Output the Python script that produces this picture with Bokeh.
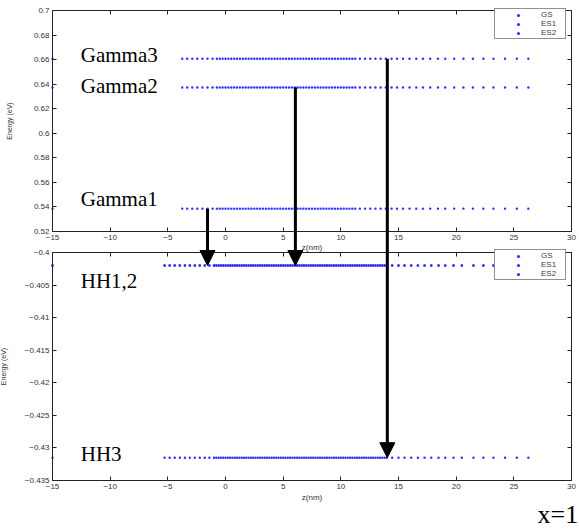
from bokeh.plotting import figure
from bokeh.models import (Range1d, LinearAxis, FixedTicker, Legend, LegendItem,
                          Arrow, NormalHead, Label)
from bokeh.embed import file_html
from bokeh.resources import INLINE

# ---------------- data ----------------
# z grid (nm) of the upper panel (conduction band levels)
z_top = [-15.0, -3.75, -3.32, -2.88, -2.45, -2.0, -1.56, -1.12,
         -0.75, -0.5, -0.25, 0.0, 0.25, 0.5, 0.75, 1.0, 1.25, 1.5, 1.75, 2.0,
         2.25, 2.5, 2.75, 3.0, 3.25, 3.5, 3.75, 4.0, 4.25, 4.5, 4.75, 5.0,
         5.25, 5.5, 5.75, 6.0, 6.25, 6.5, 6.75, 7.0, 7.25, 7.5, 7.75, 8.0,
         8.25, 8.5, 8.75, 9.0, 9.25, 9.5, 9.75, 10.0, 10.25, 10.5, 10.75, 11.0,
         11.25, 11.65, 12.1, 12.55, 13.0, 13.45, 13.9, 14.4, 14.87, 15.39,
         15.96, 16.54, 17.12, 17.75, 18.42, 19.05, 19.83, 20.63, 21.45, 22.36,
         23.23, 24.24, 25.26, 26.26]
# z grid (nm) of the lower panel (heavy-hole levels)
z_bot = [-15.0, -5.28, -4.84, -4.4, -3.96, -3.52, -3.09, -2.66, -2.23, -1.8, -1.4,
         -1.0, -0.8, -0.6, -0.4, -0.2, 0.0, 0.2, 0.4, 0.6, 0.8, 1.0, 1.2, 1.4,
         1.6, 1.8, 2.0, 2.2, 2.4, 2.6, 2.8, 3.0, 3.2, 3.4, 3.6, 3.8, 4.0, 4.2,
         4.4, 4.6, 4.8, 5.0, 5.2, 5.4, 5.6, 5.8, 6.0, 6.2, 6.4, 6.6, 6.8, 7.0,
         7.2, 7.4, 7.6, 7.8, 8.0, 8.2, 8.4, 8.6, 8.8, 9.0, 9.2, 9.4, 9.6, 9.8,
         10.0, 10.2, 10.4, 10.6, 10.8, 11.0, 11.2, 11.4, 11.6, 11.8, 12.0, 12.2,
         12.4, 12.6, 12.8, 13.0, 13.2, 13.4, 13.6, 13.8, 14.0, 14.45, 15.0,
         15.52, 16.1, 16.68, 17.26, 17.84, 18.47, 19.05, 19.77, 20.49, 21.5,
         22.36, 23.23, 24.24, 25.26, 26.26]

series_names = ["GS", "ES1", "ES2"]
top_levels = [0.5386, 0.6373, 0.6607]          # eV  (Gamma1, Gamma2, Gamma3)
bot_levels = [-0.4020, -0.4020, -0.4315]       # eV  (HH1, HH2, HH3)

top_level_names = ["Gamma1", "Gamma2", "Gamma3"]
bot_level_names = ["HH1,2", "HH3"]
bot_level_idx = [0, 2]

arrow_z = [-1.56, 6.06, 14.03]                 # nm
arrow_from_top = [0, 1, 2]                     # index into top_levels
arrow_to_bot = [-0.4020, -0.4020, -0.4315]     # eV

x_ticks = [-15, -10, -5, 0, 5, 10, 15, 20, 25, 30]
x_tick_labels = ["\u221215", "\u221210", "\u22125", "0", "5", "10", "15", "20", "25", "30"]
top_ticks = [0.52, 0.54, 0.56, 0.58, 0.6, 0.62, 0.64, 0.66, 0.68, 0.7]
top_tick_labels = ["0.52", "0.54", "0.56", "0.58", "0.6", "0.62", "0.64", "0.66", "0.68", "0.7"]
bot_ticks = [-0.435, -0.43, -0.425, -0.42, -0.415, -0.41, -0.405, -0.4]
bot_tick_labels = ["\u22120.435", "\u22120.43", "\u22120.425", "\u22120.42",
                   "\u22120.415", "\u22120.41", "\u22120.405", "\u22120.4"]

# ---------------- layout (pixel geometry of the composite) ----------------
W, H = 579, 529
AX_L, AX_R = 52, 571          # px of z=-15 and z=30
TOP_T, TOP_B = 10, 231        # px of 0.7 and 0.52
BOT_T, BOT_B = 252, 480       # px of -0.4 and -0.435

x_per_px = (x_ticks[-1] - x_ticks[0]) / (AX_R - AX_L)
top_per_px = (top_ticks[-1] - top_ticks[0]) / (TOP_B - TOP_T)
bot_per_px = (bot_ticks[-1] - bot_ticks[0]) / (BOT_B - BOT_T)

x_rng = Range1d(x_ticks[0] - AX_L * x_per_px, x_ticks[-1] + (W - AX_R) * x_per_px)
top_rng = Range1d(top_ticks[-1] - (H - TOP_T) * top_per_px, top_ticks[-1] + TOP_T * top_per_px)
bot_rng = Range1d(bot_ticks[0] - (H - BOT_B) * bot_per_px, bot_ticks[0] + BOT_B * bot_per_px)

DOT = "#3030ff"
AX = "#222222"
TICKFONT = "Liberation Sans"
SERIF = "Liberation Serif"
LBL_SIZE = 21
BASE_FIX = 0.4   # em; compensates the baseline placement of rendered labels

p = figure(width=W, height=H, x_range=x_rng, y_range=bot_rng,
           x_axis_type=None, y_axis_type=None, toolbar_location=None, tools="",
           output_backend="svg", title=None, min_border=0)
p.extra_y_ranges = {"top": top_rng}
p.outline_line_color = None
p.background_fill_color = "white"
p.border_fill_color = "white"


def add_axis(side, fixed, ticks, labels, rng=None, bounds="auto", show=True,
             axis_label=None, label_standoff=5, label_size="7px"):
    ax = LinearAxis(ticker=FixedTicker(ticks=ticks), fixed_location=fixed, bounds=bounds)
    if rng:
        ax.y_range_name = rng
    ax.major_label_overrides = {t: l for t, l in zip(ticks, labels)}
    ax.axis_line_color = AX
    ax.axis_line_width = 1
    ax.major_tick_line_color = AX
    ax.major_tick_in = 4
    ax.major_tick_out = 0
    ax.minor_tick_line_color = None
    ax.major_label_text_font = TICKFONT
    ax.major_label_text_font_size = "8px"
    ax.major_label_text_color = "#333333" if show else None
    ax.major_label_standoff = 3
    if axis_label:
        ax.axis_label = axis_label
        ax.axis_label_text_font = TICKFONT
        ax.axis_label_text_font_size = label_size
        ax.axis_label_text_font_style = "normal"
        ax.axis_label_text_color = "#333333"
        ax.axis_label_standoff = label_standoff
    p.add_layout(ax, side)
    return ax


xb = (x_ticks[0], x_ticks[-1])
# upper panel box
add_axis("left", x_ticks[0], top_ticks, top_tick_labels, rng="top",
         bounds=(top_ticks[0], top_ticks[-1]), axis_label="Energy (eV)", label_standoff=18)
add_axis("right", x_ticks[-1], top_ticks, top_tick_labels, rng="top",
         bounds=(top_ticks[0], top_ticks[-1]), show=False)
add_axis("below", top_ticks[0], x_ticks, x_tick_labels, rng="top", bounds=xb,
         axis_label="z(nm)", label_standoff=0, label_size="8px")
add_axis("above", top_ticks[-1], x_ticks, x_tick_labels, rng="top", bounds=xb, show=False)

# lower panel box
add_axis("left", x_ticks[0], bot_ticks, bot_tick_labels,
         bounds=(bot_ticks[0], bot_ticks[-1]), axis_label="Energy (eV)", label_standoff=15)
add_axis("right", x_ticks[-1], bot_ticks, bot_tick_labels,
         bounds=(bot_ticks[0], bot_ticks[-1]), show=False)
add_axis("below", bot_ticks[0], x_ticks, x_tick_labels, bounds=xb,
         axis_label="z(nm)", label_standoff=1, label_size="8px")
add_axis("above", bot_ticks[-1], x_ticks, x_tick_labels, bounds=xb, show=False)

# energy levels
top_r = []
for lev in top_levels:
    top_r.append(p.scatter(z_top, [lev] * len(z_top), size=2.4, fill_color=DOT,
                           line_color=None, y_range_name="top"))
bot_r = []
for lev in bot_levels:
    bot_r.append(p.scatter(z_bot, [lev] * len(z_bot), size=2.4, fill_color=DOT,
                           line_color=None))


def make_legend(renderers, loc):
    lg = Legend(items=[LegendItem(label=n, renderers=[r]) for n, r in zip(series_names, renderers)],
                location=loc, orientation="vertical")
    lg.label_text_font = TICKFONT
    lg.label_text_font_size = "8px"
    lg.label_text_color = "#4a3838"
    lg.glyph_width = 44
    lg.glyph_height = 8
    lg.label_height = 8
    lg.label_width = 23
    lg.label_standoff = 1
    lg.padding = 1
    lg.spacing = 0
    lg.margin = 0
    lg.border_line_color = "#222222"
    lg.border_line_width = 1
    lg.background_fill_color = "white"
    lg.background_fill_alpha = 1.0
    p.add_layout(lg)


make_legend(top_r, (494, H - 39))
make_legend(bot_r, (494, H - 280))

# level labels (dy = baseline distance below the level, px)
LBL_X = -12.55
fix = BASE_FIX * LBL_SIZE
label_dy = [-1.6, 7, 5]     # Gamma1..3
for name, lev, dy in zip(top_level_names, top_levels, label_dy):
    p.add_layout(Label(x=LBL_X, y=lev, y_range_name="top", text=name, y_offset=fix - dy,
                       text_font=SERIF, text_font_size=f"{LBL_SIZE}px", text_color="black",
                       text_baseline="alphabetic", text_align="left"))
bot_dy = [24, 4.4]
for name, idx, dy in zip(bot_level_names, bot_level_idx, bot_dy):
    p.add_layout(Label(x=LBL_X, y=bot_levels[idx], text=name, y_offset=fix - dy,
                       text_font=SERIF, text_font_size=f"{LBL_SIZE}px", text_color="black",
                       text_baseline="alphabetic", text_align="left"))

# transition arrows (drawn in the upper range; lower energies mapped onto it)
ratio = top_per_px / bot_per_px
for z, i_from, e_to in zip(arrow_z, arrow_from_top, arrow_to_bot):
    y_end = top_rng.start + (e_to - bot_rng.start) * ratio
    p.add_layout(Arrow(x_start=z, y_start=top_levels[i_from], x_end=z, y_end=y_end,
                       y_range_name="top", line_width=3, line_color="black",
                       end=NormalHead(size=15, fill_color="black", line_color="black")))

# composition label
p.add_layout(Label(x=537, y=H - 524 + BASE_FIX * 26, x_units="screen", y_units="screen",
                   text="x=1", text_font=SERIF, text_font_size="26px", text_color="black",
                   text_baseline="alphabetic", text_align="left"))

open("out.html", "w").write(file_html(p, INLINE))
